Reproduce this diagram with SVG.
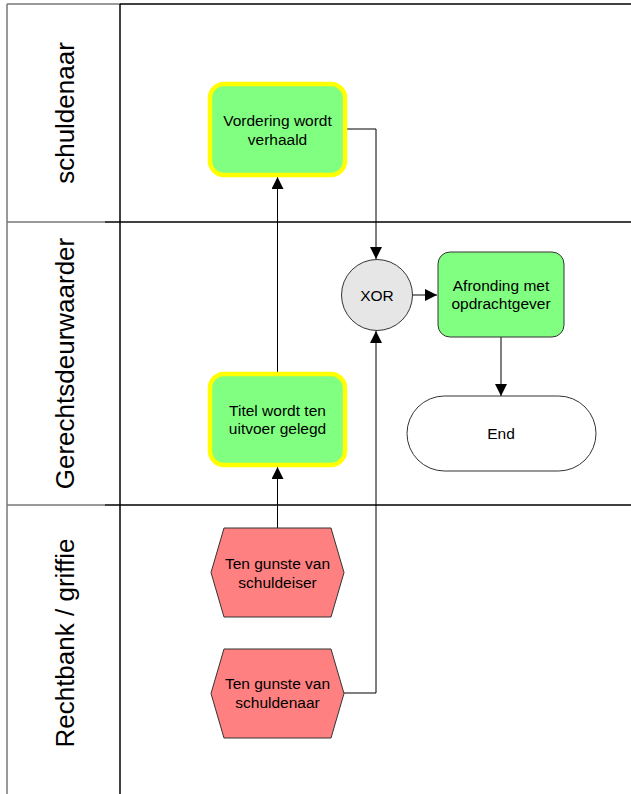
<svg xmlns="http://www.w3.org/2000/svg" width="631" height="794" viewBox="0 0 631 794">
<style>
text{font-family:"Liberation Sans",Arial,sans-serif;fill:#000}
.lane{font-size:26px}
.lbl{font-size:15.5px;text-anchor:middle}
.task{fill:#80FF80;stroke:#FFFF00;stroke-width:4.5}
.task2{fill:#80FF80;stroke:#333;stroke-width:1}
.hex{fill:#FF8080;stroke:#333;stroke-width:1}
.gw{fill:#E6E6E6;stroke:#333;stroke-width:1}
.term{fill:#fff;stroke:#333;stroke-width:1}
.con{fill:none;stroke:#000;stroke-width:1;marker-end:url(#arr)}
.gl{stroke:#777;stroke-width:1.5;fill:none}
.bl{stroke:#000;stroke-width:1.5;fill:none}
</style>
<defs>
<marker id="arr" viewBox="0 0 12 12" refX="12" refY="6" markerWidth="12" markerHeight="12" markerUnits="userSpaceOnUse" orient="auto">
<path d="M0,0 L12,6 L0,12 Z" fill="#000"/>
</marker>
</defs>
<rect width="631" height="794" fill="#fff"/>
<g id="lanes">
<line class="gl" x1="7" y1="4" x2="7" y2="794"/>
<line class="gl" x1="7" y1="4" x2="120" y2="4"/>
<line class="bl" x1="120" y1="4" x2="631" y2="4"/>
<line class="gl" x1="7" y1="222" x2="105" y2="222"/>
<line class="bl" x1="105" y1="222" x2="631" y2="222"/>
<line class="gl" x1="7" y1="505" x2="105" y2="505"/>
<line class="bl" x1="105" y1="505" x2="631" y2="505"/>
<line class="bl" x1="120" y1="4" x2="120" y2="794"/>
<text class="lane" text-anchor="middle" transform="translate(74,113) rotate(-90)">schuldenaar</text>
<text class="lane" text-anchor="middle" transform="translate(74,363.5) rotate(-90)">Gerechtsdeurwaarder</text>
<text class="lane" text-anchor="middle" transform="translate(74,643) rotate(-90)">Rechtbank / griffie</text>
</g>
<g id="connectors">
<line class="con" x1="277.5" y1="528" x2="277.5" y2="467"/>
<line class="con" x1="277.5" y1="372" x2="277.5" y2="177"/>
<polyline class="con" points="347,129 376,129 376,259"/>
<polyline class="con" points="344,693 376,693 376,331"/>
<line class="con" x1="412" y1="295" x2="437" y2="295"/>
<line class="con" x1="501" y1="337" x2="501" y2="396"/>
</g>
<g id="n_vordering">
<rect class="task" x="210" y="84" width="135" height="91" rx="14"/>
<text class="lbl" x="277.5" y="126">Vordering wordt</text>
<text class="lbl" x="277.5" y="144.5">verhaald</text>
</g>
<g id="n_titel">
<rect class="task" x="210" y="374" width="135" height="91" rx="14"/>
<text class="lbl" x="277.5" y="415.5">Titel wordt ten</text>
<text class="lbl" x="277.5" y="434">uitvoer gelegd</text>
</g>
<g id="n_xor">
<circle class="gw" cx="377" cy="295" r="35.5"/>
<text class="lbl" x="377" y="300.5">XOR</text>
</g>
<g id="n_afronding">
<rect class="task2" x="438" y="252" width="126" height="85" rx="12"/>
<text class="lbl" x="501" y="290.5">Afronding met</text>
<text class="lbl" x="501" y="309">opdrachtgever</text>
</g>
<g id="n_end">
<rect class="term" x="407" y="396" width="189" height="75" rx="37.5"/>
<text class="lbl" x="501" y="438.5">End</text>
</g>
<g id="n_schuldeiser">
<polygon class="hex" points="224,528 331,528 344,572.5 331,617 224,617 211,572.5"/>
<text class="lbl" x="277.5" y="569">Ten gunste van</text>
<text class="lbl" x="277.5" y="587.5">schuldeiser</text>
</g>
<g id="n_schuldenaar">
<polygon class="hex" points="224,649 331,649 344,693.5 331,738 224,738 211,693.5"/>
<text class="lbl" x="277.5" y="689">Ten gunste van</text>
<text class="lbl" x="277.5" y="707.5">schuldenaar</text>
</g>
</svg>
